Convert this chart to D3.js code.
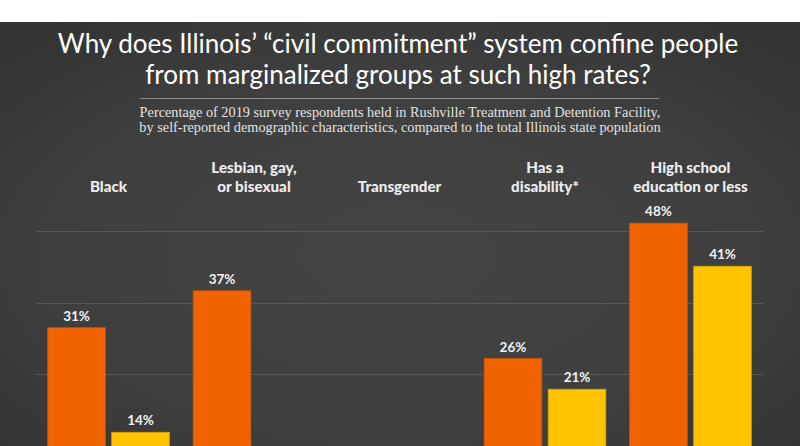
<!DOCTYPE html>
<html>
<head>
<meta charset="utf-8">
<script src="https://cdn.jsdelivr.net/npm/d3@7"></script>
<style>
  html, body { margin: 0; padding: 0; background: #fff; }
  svg { display: block; }
</style>
</head>
<body>
<svg id="chart" width="800" height="446"></svg>
<script>
// ---- Data ----
const categories = [
  ["Black"],
  ["Lesbian, gay,", "or bisexual"],
  ["Transgender"],
  ["Has a", "disability*"],
  ["High school", "education or less"]
];
const series = ["Rushville", "Illinois"];
const rushville = [31, 37, null, 26, 48];
const illinois = [14, null, null, 21, 41];
const gridValues = [11.7, 23.4, 35.1, 46.8];
const titleLines = [
  "Why does Illinois\u2019 \u201ccivil commitment\u201d system confine people",
  "from marginalized groups at such high rates?"
];
const subtitleLines = [
  "Percentage of 2019 survey respondents held in Rushville Treatment and Detention Facility,",
  "by self-reported demographic characteristics, compared to the total Illinois state population"
];

// ---- Layout ----
const W = 800, H = 446;
const svg = d3.select("#chart");
const defs = svg.append("defs");
const grad = defs.append("radialGradient").attr("id", "bg")
  .attr("cx", "50%").attr("cy", "55%").attr("r", "70%");
grad.append("stop").attr("offset", "0%").attr("stop-color", "#444444");
grad.append("stop").attr("offset", "60%").attr("stop-color", "#3f3f3f");
grad.append("stop").attr("offset", "100%").attr("stop-color", "#333333");

svg.append("rect").attr("width", W).attr("height", H).attr("fill", "#ffffff");
svg.append("rect").attr("x", 0).attr("y", 22).attr("width", W).attr("height", H - 22).attr("fill", "url(#bg)");

// Title
svg.append("g").selectAll("text").data(titleLines).join("text")
  .attr("x", 398).attr("y", (d, i) => 53 + i * 31)
  .attr("text-anchor", "middle")
  .attr("fill", "#ffffff")
  .style("font-family", "Lato, 'Open Sans', sans-serif")
  .style("font-size", "26px")
  .text(d => d);

svg.append("line").attr("x1", 140).attr("x2", 659).attr("y1", 98.5).attr("y2", 98.5)
  .attr("stroke", "#8a8a8a").attr("stroke-width", 1);

svg.append("g").selectAll("text").data(subtitleLines).join("text")
  .attr("x", 400).attr("y", (d, i) => 117 + i * 14.5)
  .attr("text-anchor", "middle")
  .attr("fill", "#e2e2e2")
  .style("font-family", "'Liberation Serif', 'Times New Roman', serif")
  .style("font-size", "14.3px")
  .text(d => d);

// Scales
const x0 = d3.scaleBand().domain(d3.range(categories.length))
  .range([47.7, 751.3]).paddingInner(0.164).paddingOuter(0);
const x1 = d3.scaleBand().domain(series).range([0, x0.bandwidth()]).paddingInner(0.1);
const y = d3.scaleLinear().domain([0, 50]).range([518.4, 210.9]);

// Gridlines
svg.append("g").selectAll("line").data(gridValues).join("line")
  .attr("x1", 36).attr("x2", 763)
  .attr("y1", d => Math.round(y(d)) + 0.5).attr("y2", d => Math.round(y(d)) + 0.5)
  .attr("stroke", "#575757").attr("stroke-width", 1);

// Category labels
const catG = svg.append("g").selectAll("text").data(categories).join("text")
  .attr("text-anchor", "middle")
  .attr("fill", "#ececec")
  .style("font-family", "Lato, 'Open Sans', sans-serif")
  .style("font-weight", "900")
  .style("font-size", "15.2px");
catG.each(function(lines, i) {
  const t = d3.select(this);
  const cx = x0(i) + x0.bandwidth() / 2;
  lines.forEach((ln, j) => {
    t.append("tspan").attr("x", cx)
      .attr("y", 191.5 - (lines.length - 1 - j) * 18.4)
      .text(ln);
  });
});

// Bars
const colors = { Rushville: "#f16300", Illinois: "#ffc300" };
const strokes = { Rushville: "#d45600", Illinois: "#d9a300" };
const barData = [];
categories.forEach((c, i) => {
  [["Rushville", rushville[i]], ["Illinois", illinois[i]]].forEach(([s, v]) => {
    if (v != null) barData.push({ i, s, v });
  });
});

const bars = svg.append("g");
bars.selectAll("rect").data(barData).join("rect")
  .attr("x", d => x0(d.i) + x1(d.s))
  .attr("y", d => y(d.v))
  .attr("width", x1.bandwidth())
  .attr("height", d => y(0) - y(d.v))
  .attr("fill", d => colors[d.s])
  .attr("stroke", d => strokes[d.s])
  .attr("stroke-width", 0.8);

bars.selectAll("text").data(barData).join("text")
  .attr("x", d => x0(d.i) + x1(d.s) + x1.bandwidth() / 2)
  .attr("y", d => y(d.v) - 7)
  .attr("text-anchor", "middle")
  .attr("fill", "#f2f2f2")
  .style("font-family", "Lato, 'Open Sans', sans-serif")
  .style("font-weight", "bold")
  .style("font-size", "13.5px")
  .text(d => d.v + "%");
</script>
</body>
</html>
